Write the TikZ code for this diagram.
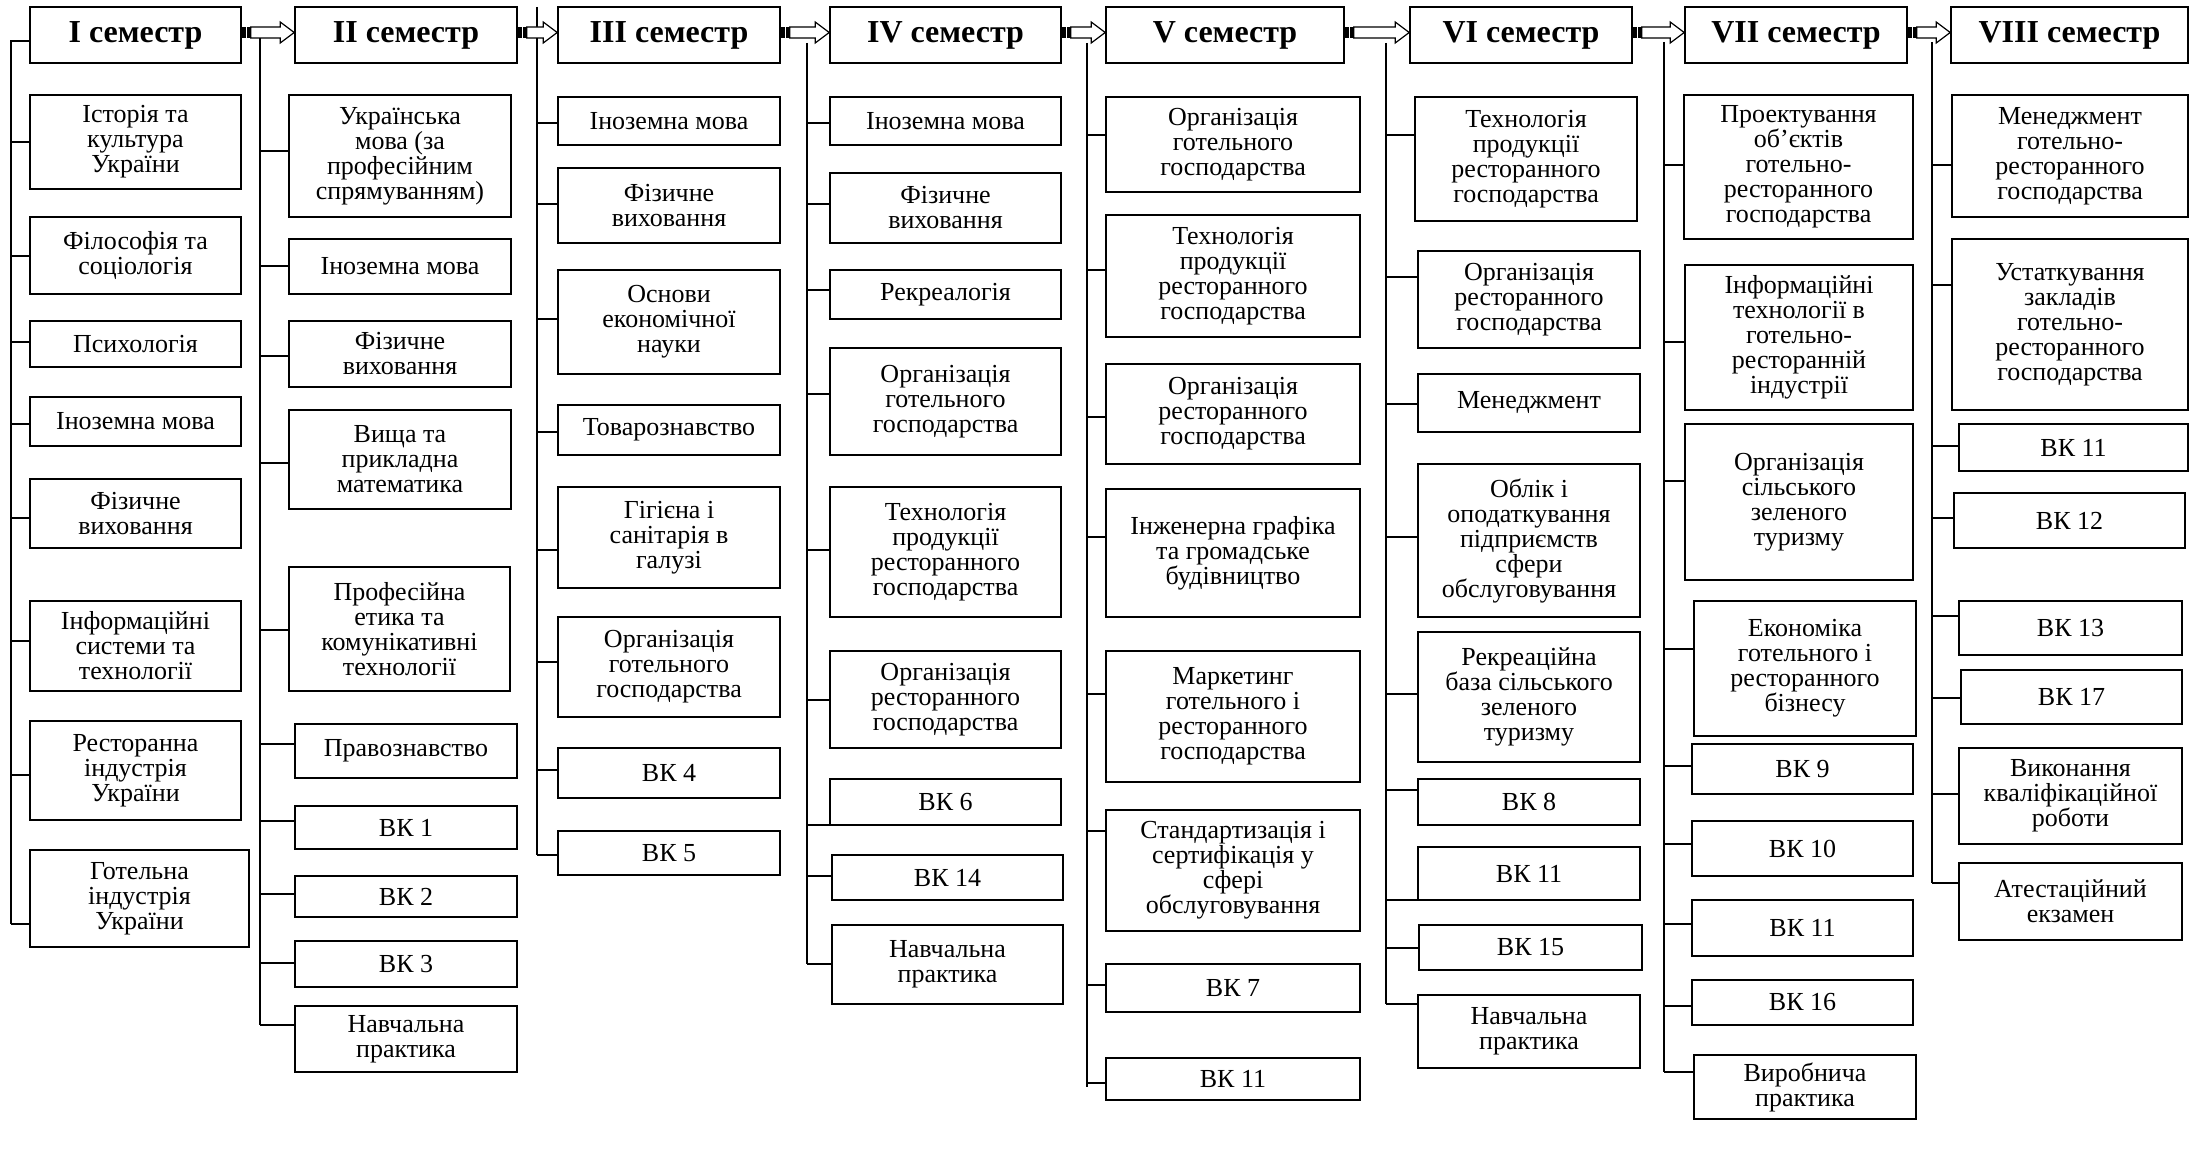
\documentclass[tikz,border=0pt]{standalone}
\usepackage{fontspec}
\setmainfont{Liberation Serif}
\usetikzlibrary{calc,positioning}

% box given by its corners (in px of the sheet)
\newcommand{\course}[7][subj]{%
  \node[#1, minimum width={(#5-#3)*0.5pt}, minimum height={(#6-#4)*0.5pt}]
    (#2) at ({(#3+#5)/2},{(#4+#6)/2}) {#7};}
% hollow arrow from one semester to the next
\newcommand{\semarrow}[2]{%
  \fill ($(#1.east)+(0,-8)$) rectangle ++(4,11);
  \fill ($(#1.east)+(5.5,-8)$) rectangle ++(3.5,11);
  \draw[fill=white, line width=0.6pt] ($(#1.east)+(9,-8)$) -- ($(#2.west)+(-14,-8)$)
     -- ($(#2.west)+(-14,-13)$) -- ($(#2.west)+(0,-2.5)$) -- ($(#2.west)+(-14,8)$)
     -- ($(#2.west)+(-14,3)$) -- ($(#1.east)+(9,3)$) -- cycle;}

\begin{document}
\begin{tikzpicture}[x=0.5pt, y=-0.5pt,
  subj/.style={draw, line width=0.8pt, align=center, inner sep=1pt,
    font=\fontsize{13}{12.5}\selectfont},
  sem/.style={subj, font=\fontsize{16}{18}\selectfont\bfseries},
  link/.style={line width=0.8pt}]
\useasboundingbox (0,0) rectangle (2190,1160);

% semesters
\course[sem]{h1}{30}{7}{241}{63}{I семестр}
\course[sem]{h2}{295}{7}{517}{63}{II семестр}
\course[sem]{h3}{558}{7}{780}{63}{III семестр}
\course[sem]{h4}{830}{7}{1061}{63}{IV семестр}
\course[sem]{h5}{1106}{7}{1344}{63}{V семестр}
\course[sem]{h6}{1410}{7}{1632}{63}{VI семестр}
\course[sem]{h7}{1685}{7}{1907}{63}{VII семестр}
\course[sem]{h8}{1951}{7}{2188}{63}{VIII семестр}

% I
\course{i1}{30}{95}{241}{189}{Історія та\\культура\\України}
\course{i2}{30}{217}{241}{294}{Філософія та\\соціологія}
\course{i3}{30}{321}{241}{367}{Психологія}
\course{i4}{30}{397}{241}{446}{Іноземна мова}
\course{i5}{30}{479}{241}{548}{Фізичне\\виховання}
\course{i6}{30}{601}{241}{691}{Інформаційні\\системи та\\технології}
\course{i7}{30}{721}{241}{820}{Ресторанна\\індустрія\\України}
\course{i8}{30}{850}{249}{947}{Готельна\\індустрія\\України}

% II
\course{ii1}{289}{95}{511}{217}{Українська\\мова (за\\професійним\\спрямуванням)}
\course{ii2}{289}{239}{511}{294}{Іноземна мова}
\course{ii3}{289}{321}{511}{387}{Фізичне\\виховання}
\course{ii4}{289}{410}{511}{509}{Вища та\\прикладна\\математика}
\course{ii5}{289}{567}{510}{691}{Професійна\\етика та\\комунікативні\\технології}
\course{ii6}{295}{724}{517}{778}{Правознавство}
\course{ii7}{295}{806}{517}{849}{ВК 1}
\course{ii8}{295}{876}{517}{917}{ВК 2}
\course{ii9}{295}{941}{517}{987}{ВК 3}
\course{ii10}{295}{1006}{517}{1072}{Навчальна\\практика}

% III
\course{iii1}{558}{97}{780}{145}{Іноземна мова}
\course{iii2}{558}{168}{780}{243}{Фізичне\\виховання}
\course{iii3}{558}{270}{780}{374}{Основи\\економічної\\науки}
\course{iii4}{558}{405}{780}{455}{Товарознавство}
\course{iii5}{558}{487}{780}{588}{Гігієна і\\санітарія в\\галузі}
\course{iii6}{558}{617}{780}{717}{Організація\\готельного\\господарства}
\course{iii7}{558}{748}{780}{798}{ВК 4}
\course{iii8}{558}{831}{780}{875}{ВК 5}

% IV
\course{iv1}{830}{97}{1061}{145}{Іноземна мова}
\course{iv2}{830}{173}{1061}{243}{Фізичне\\виховання}
\course{iv3}{830}{270}{1061}{319}{Рекреалогія}
\course{iv4}{830}{348}{1061}{455}{Організація\\готельного\\господарства}
\course{iv5}{830}{487}{1061}{617}{Технологія\\продукції\\ресторанного\\господарства}
\course{iv6}{830}{651}{1061}{748}{Організація\\ресторанного\\господарства}
\course{iv7}{830}{779}{1061}{825}{ВК 6}
\course{iv8}{832}{855}{1063}{900}{ВК 14}
\course{iv9}{832}{925}{1063}{1004}{Навчальна\\практика}

% V
\course{v1}{1106}{97}{1360}{192}{Організація\\готельного\\господарства}
\course{v2}{1106}{215}{1360}{337}{Технологія\\продукції\\ресторанного\\господарства}
\course{v3}{1106}{364}{1360}{464}{Організація\\ресторанного\\господарства}
\course{v4}{1106}{489}{1360}{617}{Інженерна графіка\\та громадське\\будівництво}
\course{v5}{1106}{651}{1360}{782}{Маркетинг\\готельного і\\ресторанного\\господарства}
\course{v6}{1106}{810}{1360}{931}{Стандартизація і\\сертифікація у\\сфері\\обслуговування}
\course{v7}{1106}{964}{1360}{1012}{ВК 7}
\course{v8}{1106}{1058}{1360}{1100}{ВК 11}

% VI
\course{vi1}{1415}{97}{1637}{221}{Технологія\\продукції\\ресторанного\\господарства}
\course{vi2}{1418}{251}{1640}{348}{Організація\\ресторанного\\господарства}
\course{vi3}{1418}{374}{1640}{432}{Менеджмент}
\course{vi4}{1418}{464}{1640}{617}{Облік і\\оподаткування\\підприємств\\сфери\\обслуговування}
\course{vi5}{1418}{632}{1640}{762}{Рекреаційна\\база сільського\\зеленого\\туризму}
\course{vi6}{1418}{779}{1640}{825}{ВК 8}
\course{vi7}{1418}{847}{1640}{900}{ВК 11}
\course{vi8}{1419}{925}{1642}{970}{ВК 15}
\course{vi9}{1418}{995}{1640}{1068}{Навчальна\\практика}

% VII
\course{vii1}{1684}{95}{1913}{239}{Проектування\\об’єктів\\готельно-\\ресторанного\\господарства}
\course{vii2}{1685}{265}{1913}{410}{Інформаційні\\технології в\\готельно-\\ресторанній\\індустрії}
\course{vii3}{1685}{424}{1913}{580}{Організація\\сільського\\зеленого\\туризму}
\course{vii4}{1694}{601}{1916}{736}{Економіка\\готельного і\\ресторанного\\бізнесу}
\course{vii5}{1692}{744}{1913}{794}{ВК 9}
\course{vii6}{1692}{821}{1913}{876}{ВК 10}
\course{vii7}{1692}{900}{1913}{956}{ВК 11}
\course{vii8}{1692}{980}{1913}{1025}{ВК 16}
\course{vii9}{1694}{1055}{1916}{1119}{Виробнича\\практика}

% VIII
\course{viii1}{1952}{95}{2188}{217}{Менеджмент\\готельно-\\ресторанного\\господарства}
\course{viii2}{1952}{239}{2188}{410}{Устаткування\\закладів\\готельно-\\ресторанного\\господарства}
\course{viii3}{1959}{424}{2188}{471}{ВК 11}
\course{viii4}{1954}{493}{2185}{548}{ВК 12}
\course{viii5}{1959}{601}{2182}{655}{ВК 13}
\course{viii6}{1961}{670}{2182}{724}{ВК 17}
\course{viii7}{1959}{748}{2182}{844}{Виконання\\кваліфікаційної\\роботи}
\course{viii8}{1959}{863}{2182}{940}{Атестаційний\\екзамен}

% spines
\coordinate (sp1) at (11,41);
\coordinate (sp2) at (260,35);
\coordinate (sp3) at (537,7);
\coordinate (sp4) at (807,43);
\coordinate (sp5) at (1087,43);
\coordinate (sp6) at (1386,43);
\coordinate (sp7) at (1664,42);
\coordinate (sp8) at (1932,42);

\draw[link] (h1.west |- sp1) -- (sp1) -- (sp1 |- 0,924);
\draw[link] (sp2) -- (sp2 |- 0,1025);
\draw[link] (sp3) -- (sp3 |- 0,855);
\draw[link] (sp4) -- (sp4 |- 0,964);
\draw[link] (sp5) -- (sp5 |- 0,1087);
\draw[link] (sp6) -- (sp6 |- 0,1004);
\draw[link] (sp7) -- (sp7 |- 0,1072);
\draw[link] (sp8) -- (sp8 |- 0,883);

\foreach \b/\y in {i1/142,i2/256,i3/342,i4/424,i5/518,i6/641,i7/775,i8/924}
  \draw[link] (sp1 |- 0,\y) -- (\b.west |- 0,\y);
\foreach \b/\y in {ii1/151,ii2/266,ii3/356,ii4/463,ii5/630,ii6/744,ii7/821,ii8/894,ii9/963,ii10/1025}
  \draw[link] (sp2 |- 0,\y) -- (\b.west |- 0,\y);
\foreach \b/\y in {iii1/123,iii2/204,iii3/319,iii4/432,iii5/550,iii6/662,iii7/770,iii8/855}
  \draw[link] (sp3 |- 0,\y) -- (\b.west |- 0,\y);
\foreach \b/\y in {iv1/123,iv2/204,iv3/290,iv4/394,iv5/550,iv6/700,iv7/825,iv8/876,iv9/964}
  \draw[link] (sp4 |- 0,\y) -- (\b.west |- 0,\y);
\foreach \b/\y in {v1/135,v2/270,v3/417,v4/537,v5/694,v6/831,v7/985,v8/1083}
  \draw[link] (sp5 |- 0,\y) -- (\b.west |- 0,\y);
\foreach \b/\y in {vi1/135,vi2/277,vi3/404,vi4/537,vi5/694,vi6/790,vi7/900,vi8/948,vi9/1004}
  \draw[link] (sp6 |- 0,\y) -- (\b.west |- 0,\y);
\foreach \b/\y in {vii1/165,vii2/342,vii3/481,vii4/649,vii5/766,vii6/844,vii7/924,vii8/1006,vii9/1072}
  \draw[link] (sp7 |- 0,\y) -- (\b.west |- 0,\y);
\foreach \b/\y in {viii1/165,viii2/285,viii3/446,viii4/518,viii5/616,viii6/698,viii7/794,viii8/883}
  \draw[link] (sp8 |- 0,\y) -- (\b.west |- 0,\y);

% arrows between semesters
\semarrow{h1}{h2}
\semarrow{h2}{h3}
\semarrow{h3}{h4}
\semarrow{h4}{h5}
\semarrow{h5}{h6}
\semarrow{h6}{h7}
\semarrow{h7}{h8}
\end{tikzpicture}
\end{document}
